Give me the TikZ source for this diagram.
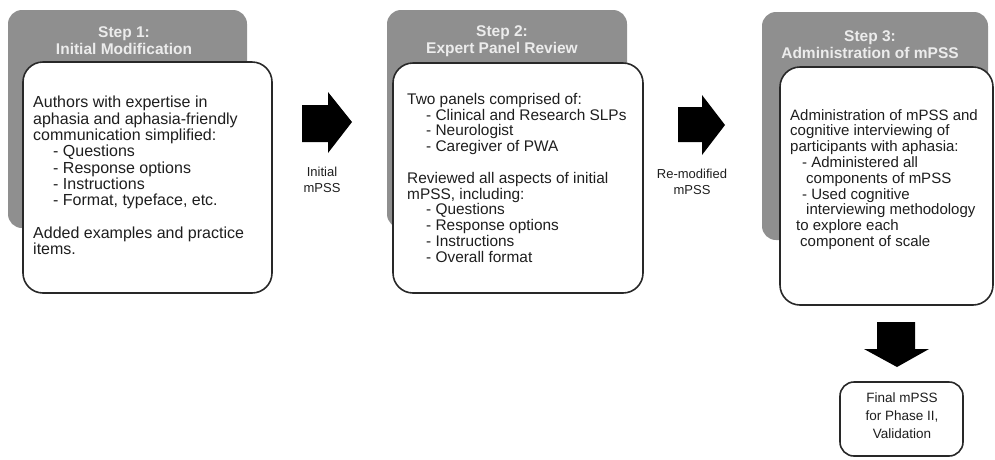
\documentclass[tikz,border=0pt]{standalone}
\usepackage{fontspec}
\setmainfont{Liberation Sans}
\definecolor{hdrgray}{RGB}{143,143,143}
\definecolor{hdrtext}{RGB}{236,236,236}
\definecolor{bordergray}{RGB}{40,40,40}
\definecolor{bodytext}{RGB}{30,30,30}
\begin{document}
\begin{tikzpicture}[x=1pt,y=-1pt,
  header/.style={fill=hdrgray, rounded corners=14pt},
  card/.style={draw=bordergray, line width=1.6pt, fill=white, rounded corners=20pt},
  hdrlabel/.style={text=hdrtext, font=\bfseries\fontsize{15.5}{17}\selectfont, align=center, inner sep=0pt},
  body/.style={text=bodytext, align=left, inner sep=0pt, anchor=north west},
  flowlabel/.style={text=bodytext, font=\fontsize{13}{16}\selectfont, align=center, inner sep=0pt},
  blockarrow/.style={fill=black}
]
\useasboundingbox (0,0) rectangle (995,459);
% Panel 1
\fill[header] (8,10) rectangle (247,228);
\node[hdrlabel] (h1) at (124,41) {Step 1:\\Initial Modification};
\draw[card] (23,62) rectangle (272,293);
\node[body, font=\fontsize{16}{16.3}\selectfont] (b1) at (33,96) {Authors with expertise in\\
aphasia and aphasia-friendly\\
communication simplified:\\
\hspace*{20pt}- Questions\\
\hspace*{20pt}- Response options\\
\hspace*{20pt}- Instructions\\
\hspace*{20pt}- Format, typeface, etc.\\[16.3pt]
Added examples and practice\\
items.};
% Arrow 1
\fill[blockarrow] (302,105) -- (328,105) -- (328,92) -- (352,122) -- (328,153) -- (328,142) -- (302,142) -- cycle;
\node[flowlabel] (l1) at (322,180) {Initial\\mPSS};
% Panel 2
\fill[header] (387,10) rectangle (627,228);
\node[hdrlabel] (h2) at (502,41) {Step 2:\\Expert Panel Review};
\draw[card] (393,63) rectangle (643,293);
\node[body, font=\fontsize{15.4}{15.8}\selectfont] (b2) at (407,93) {Two panels comprised of:\\
\hspace*{19pt}- Clinical and Research SLPs\\
\hspace*{19pt}- Neurologist\\
\hspace*{19pt}- Caregiver of PWA\\[15.8pt]
Reviewed all aspects of initial\\
mPSS, including:\\
\hspace*{19pt}- Questions\\
\hspace*{19pt}- Response options\\
\hspace*{19pt}- Instructions\\
\hspace*{19pt}- Overall format};
% Arrow 2
\fill[blockarrow] (678,107) -- (702,107) -- (702,95) -- (725,125) -- (702,155) -- (702,142) -- (678,142) -- cycle;
\node[flowlabel] (l2) at (692,182) {Re-modified\\mPSS};
% Panel 3
\fill[header] (762,12) rectangle (988,240);
\node[hdrlabel] (h3) at (870,45) {Step 3:\\Administration of mPSS};
\draw[card] (780,67) rectangle (993,305);
\node[body, font=\fontsize{15}{15.8}\selectfont] (b3) at (790,109) {Administration of mPSS and\\
cognitive interviewing of\\
participants with aphasia:\\
\hspace*{12pt}- Administered all\\
\hspace*{16pt}components of mPSS\\
\hspace*{12pt}- Used cognitive\\
\hspace*{16pt}interviewing methodology\\
\hspace*{6pt}to explore each\\
\hspace*{10pt}component of scale};
% Arrow 3 (down)
\fill[blockarrow] (877,322) -- (915,322) -- (915,349) -- (929,349) -- (897,367) -- (864,349) -- (877,349) -- cycle;
% Final box
\draw[card, rounded corners=14pt] (840,382) rectangle (963,456);
\node[flowlabel, font=\fontsize{13.5}{18}\selectfont] (f) at (902,416) {Final mPSS\\for Phase II,\\Validation};
\end{tikzpicture}
\end{document}
